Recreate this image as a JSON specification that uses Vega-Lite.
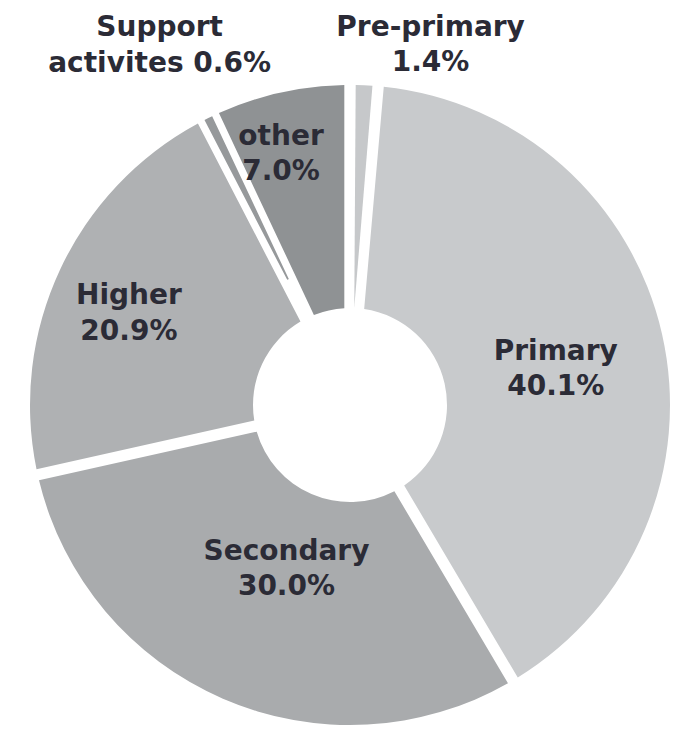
{
  "$schema": "https://vega.github.io/schema/vega-lite/v6.json",
  "width": 646,
  "height": 690,
  "autosize": {"type": "none"},
  "padding": {"left": 27, "right": 0, "top": 60, "bottom": 0},
  "background": "white",
  "view": {"stroke": null},
  "data": {
    "values": [
      {"idx": 1, "category": "Pre-primary", "value": 1.4, "label": ["Pre-primary", "1.4%"]},
      {"idx": 2, "category": "Primary", "value": 40.1, "label": ["Primary", "40.1%"]},
      {"idx": 3, "category": "Secondary", "value": 30.0, "label": ["Secondary", "30.0%"]},
      {"idx": 4, "category": "Higher", "value": 20.9, "label": ["Higher", "20.9%"]},
      {"idx": 5, "category": "Support activites", "value": 0.6, "label": ["Support", "activites 0.6%"]},
      {"idx": 6, "category": "other", "value": 7.0, "label": ["other", "7.0%"]}
    ]
  },
  "encoding": {
    "theta": {"field": "value", "type": "quantitative", "stack": true},
    "order": {"field": "idx", "type": "quantitative"}
  },
  "layer": [
    {
      "mark": {"type": "arc", "outerRadius": 320, "innerRadius": 97, "padAngle": 0.034},
      "encoding": {
        "color": {
          "field": "category",
          "type": "nominal",
          "scale": {
            "domain": ["Pre-primary", "Primary", "Secondary", "Higher", "Support activites", "other"],
            "range": ["#c6c8ca", "#c8cacc", "#a9abad", "#afb1b3", "#96999b", "#8f9294"]
          },
          "legend": null
        },
        "opacity": {"condition": {"test": "datum.category === 'Support activites'", "value": 0}, "value": 1}
      }
    },
    {
      "mark": {"type": "arc", "outerRadius": 320, "innerRadius": 140, "padAngle": 0.01},
      "encoding": {
        "color": {"field": "category", "type": "nominal", "legend": null},
        "opacity": {"condition": {"test": "datum.category === 'Support activites'", "value": 1}, "value": 0}
      }
    },
    {
      "mark": {"type": "text", "radius": 211, "dy": -6, "font": "DejaVu Sans", "fontWeight": "bold", "fontSize": 28, "lineHeight": 35, "color": "#2b2b36", "align": "center", "baseline": "middle"},
      "encoding": {"text": {"condition": {"test": "datum.category === 'Primary'", "field": "label"}, "value": ""}}
    },
    {
      "mark": {"type": "text", "radius": 160, "font": "DejaVu Sans", "fontWeight": "bold", "fontSize": 28, "lineHeight": 35, "color": "#2b2b36", "align": "center", "baseline": "middle"},
      "encoding": {"text": {"condition": {"test": "datum.category === 'Secondary'", "field": "label"}, "value": ""}}
    },
    {
      "mark": {"type": "text", "radius": 244, "dy": -6, "font": "DejaVu Sans", "fontWeight": "bold", "fontSize": 28, "lineHeight": 36, "color": "#2b2b36", "align": "center", "baseline": "middle"},
      "encoding": {"text": {"condition": {"test": "datum.category === 'Higher'", "field": "label"}, "value": ""}}
    },
    {
      "mark": {"type": "text", "radius": 275, "dx": -9, "font": "DejaVu Sans", "fontWeight": "bold", "fontSize": 28, "lineHeight": 35, "color": "#2b2b36", "align": "center", "baseline": "middle"},
      "encoding": {"text": {"condition": {"test": "datum.category === 'other'", "field": "label"}, "value": ""}}
    },
    {
      "mark": {"type": "text", "radius": 377, "dx": 64, "font": "DejaVu Sans", "fontWeight": "bold", "fontSize": 28, "lineHeight": 35, "color": "#2b2b36", "align": "center", "baseline": "middle"},
      "encoding": {"text": {"condition": {"test": "datum.category === 'Pre-primary'", "field": "label"}, "value": ""}}
    },
    {
      "mark": {"type": "text", "radius": 421, "dx": -4, "font": "DejaVu Sans", "fontWeight": "bold", "fontSize": 28, "lineHeight": 36, "color": "#2b2b36", "align": "center", "baseline": "middle"},
      "encoding": {"text": {"condition": {"test": "datum.category === 'Support activites'", "field": "label"}, "value": ""}}
    }
  ]
}
